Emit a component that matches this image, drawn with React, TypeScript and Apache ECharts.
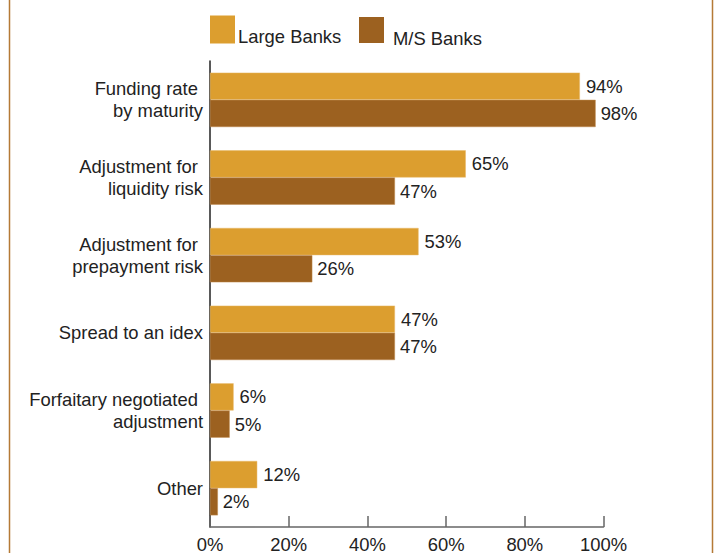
import React, { useEffect, useRef } from "react";
import * as echarts from "echarts";

const categories = [
  "Funding rate \nby maturity",
  "Adjustment for \nliquidity risk",
  "Adjustment for \nprepayment risk",
  "Spread to an idex",
  "Forfaitary negotiated \nadjustment",
  "Other",
];
const seriesNames = ["Large Banks", "M/S Banks"];
const largeBanks = [94, 65, 53, 47, 6, 12];
const msBanks = [98, 47, 26, 47, 5, 2];
const xTicks = [0, 20, 40, 60, 80, 100];

const LARGE = "#DC9E2F";
const MS = "#9C6120";
const FONT = "'Liberation Sans', Arial, Helvetica, sans-serif";
const FS = 18.4;

export default function App() {
  const ref = useRef<HTMLDivElement>(null);
  useEffect(() => {
    if (!ref.current) return;
    const chart = echarts.init(ref.current, undefined, { renderer: "svg" });
    chart.setOption({
      animation: false,
      backgroundColor: "#ffffff",
      textStyle: { fontFamily: FONT },
      grid: { left: 210, right: 114.5, top: 61, bottom: 24, containLabel: false },
      xAxis: {
        type: "value",
        min: 0,
        max: 100,
        interval: 20,
        axisLine: { show: true, lineStyle: { color: "#666", width: 1.5 } },
        axisTick: { show: true, inside: true, length: 11, lineStyle: { color: "#666", width: 1.5 } },
        splitLine: { show: false },
        axisLabel: {
          formatter: (v: number) => (xTicks.includes(v) ? v + "%" : ""),
          fontSize: FS,
          color: "#222",
          margin: 8,
          fontFamily: FONT,
        },
      },
      yAxis: {
        type: "category",
        data: categories,
        inverse: true,
        axisLine: { show: true, lineStyle: { color: "#222", width: 1.5 } },
        axisTick: { show: false },
        axisLabel: {
          fontSize: FS,
          color: "#222",
          margin: 7,
          lineHeight: 22,
          align: "right",
          fontFamily: FONT,
        },
      },
      series: [
        {
          name: seriesNames[0],
          type: "bar",
          data: largeBanks,
          barCategoryGap: "30%",
          barGap: "0%",
          itemStyle: { color: LARGE, borderColor: "#E8B868", borderWidth: 0.5 },
          label: {
            show: true,
            position: "right",
            distance: 6,
            formatter: "{c}%",
            fontSize: FS,
            color: "#222",
            fontFamily: FONT,
          },
        },
        {
          name: seriesNames[1],
          type: "bar",
          data: msBanks,
          barCategoryGap: "30%",
          barGap: "0%",
          itemStyle: { color: MS, borderColor: "#C08A4E", borderWidth: 0.5 },
          label: {
            show: true,
            position: "right",
            distance: 5,
            formatter: "{c}%",
            fontSize: FS,
            color: "#222",
            fontFamily: FONT,
          },
        },
      ],
      graphic: [
        { type: "line", shape: { x1: 9.5, y1: 0, x2: 9.5, y2: 553 }, style: { stroke: "#B57A36", lineWidth: 1.5 } },
        { type: "line", shape: { x1: 712.5, y1: 0, x2: 712.5, y2: 553 }, style: { stroke: "#B57A36", lineWidth: 1.5 } },
        { type: "rect", shape: { x: 210, y: 15.5, width: 25, height: 28 }, style: { fill: LARGE } },
        {
          type: "text",
          x: 238,
          y: 36,
          style: { text: seriesNames[0], fontSize: FS, fontFamily: FONT, fill: "#222", verticalAlign: "middle", align: "left" },
        },
        { type: "rect", shape: { x: 359, y: 17, width: 25, height: 26 }, style: { fill: MS } },
        {
          type: "text",
          x: 393,
          y: 38,
          style: { text: seriesNames[1], fontSize: FS, fontFamily: FONT, fill: "#222", verticalAlign: "middle", align: "left" },
        },
      ],
    });
    return () => chart.dispose();
  }, []);
  return <div ref={ref} style={{ width: 718, height: 553, position: "absolute", left: 0, top: 0 }} />;
}
